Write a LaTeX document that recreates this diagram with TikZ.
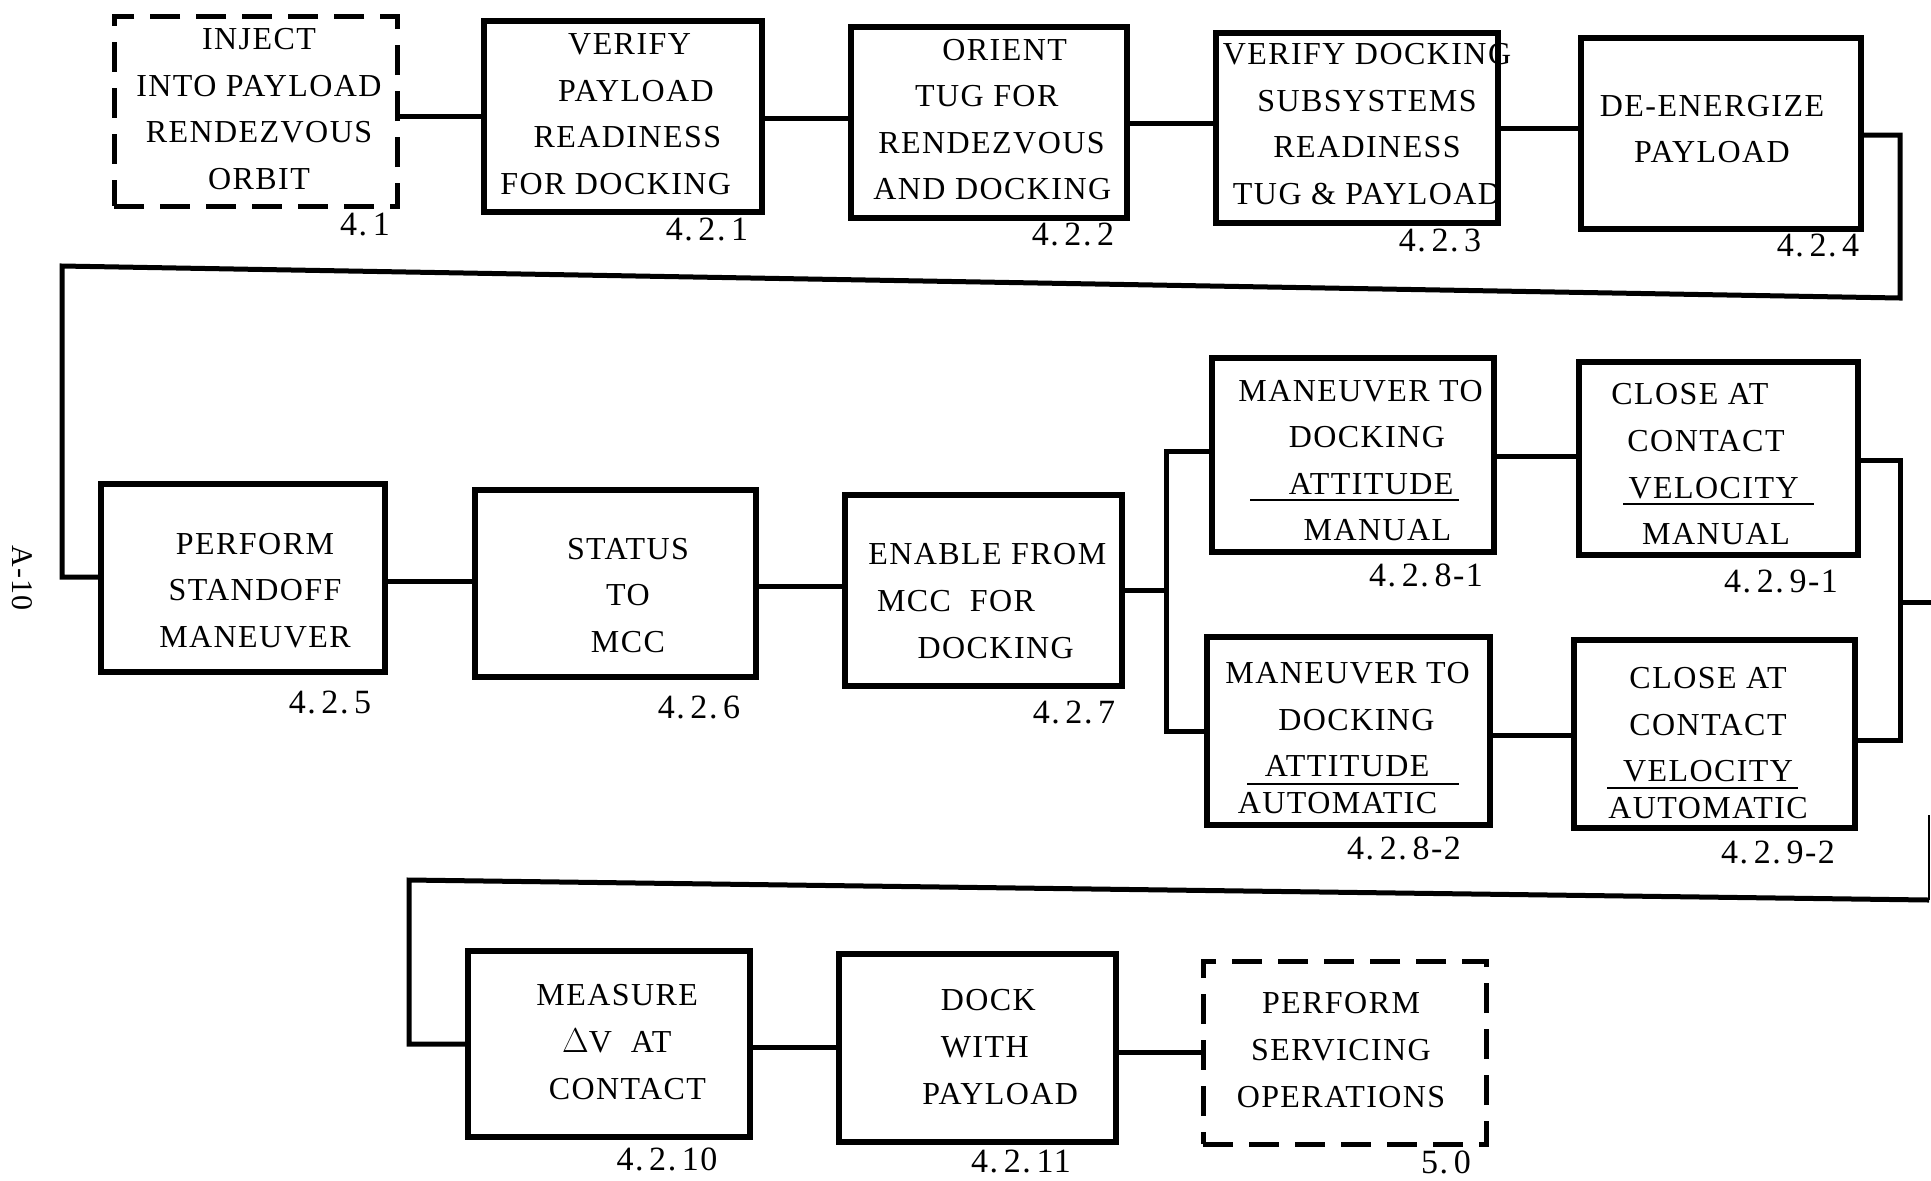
\documentclass[tikz,border=0pt]{standalone}
\usepackage{fontspec}
\setmainfont{Liberation Serif}[LetterSpace=4.5]
\tikzset{
  boxline/.style={draw, line width=2.7pt, rectangle, inner sep=0pt},
  dashbox/.style={line width=2.5pt, dash pattern=on 15pt off 8pt},
  conn/.style={line width=2.5pt},
  txt/.style={inner sep=0pt, align=center, font=\fontsize{16}{23.3}\selectfont},
  ltxt/.style={txt, align=left, anchor=west},
  num/.style={inner sep=0pt, font=\fontsize{17}{20}\selectfont},
  uline/.style={line width=1.4pt},
}
\newcommand\procbox[6][]{%
  \pgfmathsetmacro\bw{(#5-#3)*0.5}%
  \pgfmathsetmacro\bh{(#6-#4)*0.5}%
  \pgfmathsetmacro\bx{(#3+#5)/2}%
  \pgfmathsetmacro\by{(#4+#6)/2}%
  \node[boxline,#1,minimum width=\bw pt,minimum height=\bh pt] (#2) at (\bx,\by) {};}
\begin{document}
\begin{tikzpicture}[x=0.5pt,y=-0.5pt]
\fill[white] (0,0) rectangle (1931,1180);
\useasboundingbox (0,0) rectangle (1931,1180);

% ---- boxes ----
\procbox[dashbox]{b41}{114}{16}{397}{206}
\procbox{b421}{484}{21}{762}{212}
\procbox{b422}{851}{27}{1127}{218}
\procbox{b423}{1216}{33}{1498}{223}
\procbox{b424}{1581}{38}{1861}{229}
\procbox{b425}{101}{484}{385}{672}
\procbox{b426}{475}{490}{756}{677}
\procbox{b427}{845}{495}{1122}{686}
\procbox{b4281}{1212}{358}{1494}{552}
\procbox{b4291}{1579}{362}{1858}{555}
\procbox{b4282}{1207}{637}{1490}{825}
\procbox{b4292}{1574}{640}{1855}{828}
\procbox{b4210}{468}{951}{750}{1137}
\procbox{b4211}{839}{954}{1116}{1142}
\procbox[dashbox]{b50}{1203}{961}{1486}{1144}

% ---- texts ----
\node[txt] (t41) at (259,109) {INJECT\\INTO PAYLOAD\\RENDEZVOUS\\ORBIT};
\node[ltxt] (t421) at (500,114) {\hspace*{33.9pt}VERIFY\\\hspace*{28.9pt}PAYLOAD\\\hspace*{16.6pt}READINESS\\FOR DOCKING};
\node[ltxt] (t422) at (873,119.5) {\hspace*{34.5pt}ORIENT\\\hspace*{20.9pt}TUG FOR\\\hspace*{2.5pt}RENDEZVOUS\\AND DOCKING};
\node[txt] (t423) at (1367,124) {VERIFY DOCKING\\SUBSYSTEMS\\READINESS\\TUG \& PAYLOAD};
\node[txt] (t424) at (1712,129) {DE-ENERGIZE\\PAYLOAD};
\node[txt] (t425) at (255,590.5) {PERFORM\\STANDOFF\\MANEUVER};
\node[txt] (t426) at (628,595.4) {STATUS\\TO\\MCC};
\node[ltxt] (t427) at (868,601) {ENABLE FROM\\\hspace*{4.3pt}MCC\ \ FOR\\\hspace*{24.6pt}DOCKING};
\node[ltxt] (t4281) at (1238,460.6) {MANEUVER TO\\\hspace*{25.2pt}DOCKING\\\hspace*{25.2pt}ATTITUDE\\\hspace*{32.6pt}MANUAL};
\node[ltxt] (t4291) at (1611,464.3) {CLOSE AT\\\hspace*{8pt}CONTACT\\\hspace*{8.6pt}VELOCITY\\\hspace*{15.4pt}MANUAL};
\node[ltxt] (t4282) at (1225,738) {MANEUVER TO\\\hspace*{26.5pt}DOCKING\\\hspace*{19.7pt}ATTITUDE\\[-5pt]\hspace*{6.2pt}AUTOMATIC};
\node[txt] (t4292) at (1708,743) {CLOSE AT\\CONTACT\\VELOCITY\\[-5pt]AUTOMATIC};
\node[ltxt] (t4210) at (536,1042) {MEASURE\\\hspace*{12.9pt}$\Delta$V\ \ AT\\\hspace*{6.2pt}CONTACT};
\node[ltxt] (t4211) at (922,1047) {\hspace*{9.2pt}DOCK\\\hspace*{9.2pt}WITH\\PAYLOAD};
\node[txt] (t50) at (1341,1050) {PERFORM\\SERVICING\\OPERATIONS};

% ---- underlines ----
\draw[uline] (1250,500) -- (1459,500);
\draw[uline] (1623,504) -- (1814,504);
\draw[uline] (1247,784) -- (1459,784);
\draw[uline] (1607,788) -- (1798,788);

% ---- numbers ----
\node[num] (n41) at (365,225) {4.\,1};
\node[num] (n421) at (707,229) {4.\,2.\,1};
\node[num] (n422) at (1073,234) {4.\,2.\,2};
\node[num] (n423) at (1440,240) {4.\,2.\,3};
\node[num] (n424) at (1818,245) {4.\,2.\,4};
\node[num] (n425) at (330,702) {4.\,2.\,5};
\node[num] (n426) at (699,707) {4.\,2.\,6};
\node[num] (n427) at (1074,712) {4.\,2.\,7};
\node[num] (n4281) at (1426,575) {4.\,2.\,8-1};
\node[num] (n4291) at (1781,581) {4.\,2.\,9-1};
\node[num] (n4282) at (1404,848) {4.\,2.\,8-2};
\node[num] (n4292) at (1778,852) {4.\,2.\,9-2};
\node[num] (n4210) at (667,1159) {4.\,2.\,10};
\node[num] (n4211) at (1021,1161) {4.\,2.\,11};
\node[num] (n50) at (1446,1162) {5.\,0};
\node[num, rotate=-90, font=\fontsize{15}{18}\selectfont] (pg) at (22,578) {A-10};

% ---- connectors ----
\draw[conn] (b41.east |- 0,116) -- (b421.west |- 0,116);
\draw[conn] (b421.east |- 0,118) -- (b422.west |- 0,118);
\draw[conn] (b422.east |- 0,123) -- (b423.west |- 0,123);
\draw[conn] (b423.east |- 0,128) -- (b424.west |- 0,128);

\coordinate (r1) at (1900,135);
\coordinate (r2) at (1900,298);
\coordinate (l1) at (62,266);
\coordinate (l2) at (62,577);
\draw[conn] (b424.east |- r1) -- (r1) -- (r2) -- (l1) -- (l2) -- (b425.west |- l2);

\draw[conn] (b425.east |- 0,581) -- (b426.west |- 0,581);
\draw[conn] (b426.east |- 0,586) -- (b427.west |- 0,586);

\coordinate (j1) at (1166,590);
\draw[conn] (b427.east |- j1) -- (j1);
\draw[conn] (b4281.west |- 0,451) -| (j1) |- (b4282.west |- 0,731);
\draw[conn] (b4281.east |- 0,456) -- (b4291.west |- 0,456);
\draw[conn] (b4282.east |- 0,735) -- (b4292.west |- 0,735);

\coordinate (j2) at (1900,602);
\coordinate (e1) at (1931,602);
\draw[conn] (b4291.east |- 0,460) -| (j2) |- (b4292.east |- 0,740);
\draw[conn] (j2) -- (e1);

\coordinate (e2) at (1929,815);
\coordinate (e3) at (1929,900);
\coordinate (l3) at (409,880);
\coordinate (l4) at (409,1044);
\draw[line width=1.2pt] (e2) -- (e3);
\draw[conn] (e3) -- (l3) -- (l4) -- (b4210.west |- l4);

\draw[conn] (b4210.east |- 0,1047) -- (b4211.west |- 0,1047);
\draw[conn] (b4211.east |- 0,1052) -- (b50.west |- 0,1052);
\end{tikzpicture}
\end{document}
